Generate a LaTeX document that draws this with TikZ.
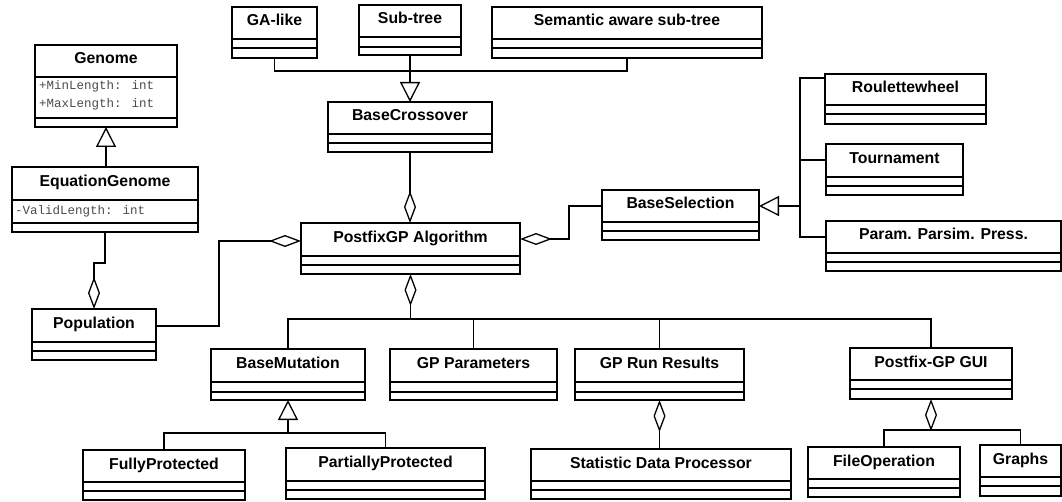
\documentclass[tikz,border=0pt]{standalone}
\usepackage{fontspec}
\setmainfont{Liberation Sans}
\newfontfamily\monof{Liberation Mono}
\usetikzlibrary{arrows.meta,calc}
\newcommand\umlclass[8]{%
  \node[cls,minimum width={(#4-#2)*1pt},minimum height={(#5-#3)*1pt}] (#1) at ({(#2+#4)/2},{(#3+#5)/2}) {};
  \draw[lw] (#2,#6) -- (#4,#6) (#2,#7) -- (#4,#7);
  \node[ctitle] (#1-t) at ({(#2+#4)/2},{(#3+#6)/2+3}) {#8};
}
\begin{document}
\begin{tikzpicture}[x=1pt,y=-1pt,
  lw/.style={line width=1.3pt},
  cls/.style={draw,lw,rectangle,inner sep=0pt,outer sep=0pt},
  ctitle/.style={font=\fontsize{15.8}{18}\selectfont\bfseries,anchor=base,inner sep=0pt},
  attr/.style={font=\monof\fontsize{12.5}{14}\selectfont,text=black!70,anchor=west,inner sep=0pt},
  conn/.style={draw,lw},
  gen/.style={conn,-{Triangle[open,length=20pt,width=20pt]}},
  agg/.style={conn,-{Diamond[open,length=32pt,width=12pt]}},
]
\useasboundingbox (0,0) rectangle (1062,502);

% classes
\umlclass{Genome}{35}{45}{177}{127}{77}{118}{Genome}
\node[attr] (g-a1) at (39,86) {+MinLength: int};
\node[attr] (g-a2) at (39,104) {+MaxLength: int};
\umlclass{EqGenome}{12}{167}{198}{232}{200}{223}{EquationGenome}
\node[attr] (eg-a1) at (15,211) {-ValidLength: int};
\umlclass{Population}{32}{309}{156}{360}{342}{351}{Population}

\umlclass{GAlike}{232}{7}{317}{58}{39}{48}{GA-like}
\umlclass{Subtree}{359}{5}{461}{55}{37}{47}{Sub-tree}
\umlclass{Semantic}{492}{7}{762}{58}{39}{48}{Semantic aware sub-tree}
\umlclass{Crossover}{328}{102}{492}{152}{134}{143}{BaseCrossover}
\umlclass{Postfix}{301}{223}{520}{274}{256}{265}{PostfixGP Algorithm}

\umlclass{Selection}{602}{190}{759}{240}{222}{231}{BaseSelection}
\umlclass{Roulette}{825}{74}{986}{124}{105}{114}{Roulettewheel}
\umlclass{Tournament}{826}{144}{963}{195}{177}{186}{Tournament}
\umlclass{Param}{826}{221}{1061}{271}{253}{262}{Param. Parsim. Press.}

\umlclass{Mutation}{211}{349}{365}{400}{382}{392}{BaseMutation}
\umlclass{GPParams}{390}{349}{557}{400}{382}{392}{GP Parameters}
\umlclass{GPRun}{575}{349}{744}{400}{382}{392}{GP Run Results}
\umlclass{GUI}{850}{348}{1012}{399}{380}{389}{Postfix-GP GUI}

\umlclass{Fully}{83}{450}{245}{500}{482}{491}{FullyProtected}
\umlclass{Partially}{286}{448}{485}{499}{481}{490}{PartiallyProtected}
\umlclass{Statistic}{531}{449}{791}{499}{481}{490}{Statistic Data Processor}
\umlclass{FileOp}{808}{447}{960}{497}{479}{488}{FileOperation}
\umlclass{Graphs}{980}{445}{1061}{496}{477}{486}{Graphs}

% Genome hierarchy
\draw[gen] (Genome.south |- EqGenome.north) -- (Genome.south);
\draw[agg] (EqGenome.south) -- ++(0,31) -| (Population.north);
\draw[agg] ($(Population.north east)+(0,17)$) -- ++(63,0) |- ($(Postfix.north west)+(0,18)$);

% crossover
\draw[conn] (GAlike.south) -- ++(0,13) -| (Semantic.south);
\draw[gen] (Subtree.south) -- (Crossover.north);
\draw[agg] (Crossover.south) -- (Crossover.south |- Postfix.north);

% selection
\draw[agg] ($(Selection.north west)+(0,16)$) -- ++(-33,0) |- ($(Postfix.north east)+(0,16)$);
\draw[conn] ($(Roulette.north west)+(0,4)$) -| ($(Param.north west)+(-26,16)$) -- ($(Param.north west)+(0,16)$);
\draw[conn] ($(Tournament.north west)+(0,16)$) -- ++(-26,0);
\draw[gen] ($(Selection.north east)+(41,16)$) -- ($(Selection.north east)+(0,16)$);

% bottom bus
\coordinate (bus) at ($(Postfix.south)+(0,45)$);
\draw[conn] (Mutation.north) |- (bus) -| (GUI.north);
\draw[conn] (GPParams.north) -- (GPParams.north |- bus);
\draw[conn] (GPRun.north) -- (GPRun.north |- bus);
\draw[agg] (bus) -- (Postfix.south);

% mutation hierarchy
\coordinate (mbar) at ($(Mutation.south)+(0,33)$);
\draw[conn] (Fully.north) |- (mbar) -| (Partially.north);
\draw[gen] (mbar) -- (Mutation.south);

% run results
\draw[agg] (GPRun.south |- Statistic.north) -- (GPRun.south);

% GUI
\coordinate (gbar) at ($(GUI.south)+(0,31)$);
\draw[conn] (FileOp.north) |- (gbar) -| (Graphs.north);
\draw[agg] (gbar) -- (GUI.south);
\end{tikzpicture}
\end{document}
